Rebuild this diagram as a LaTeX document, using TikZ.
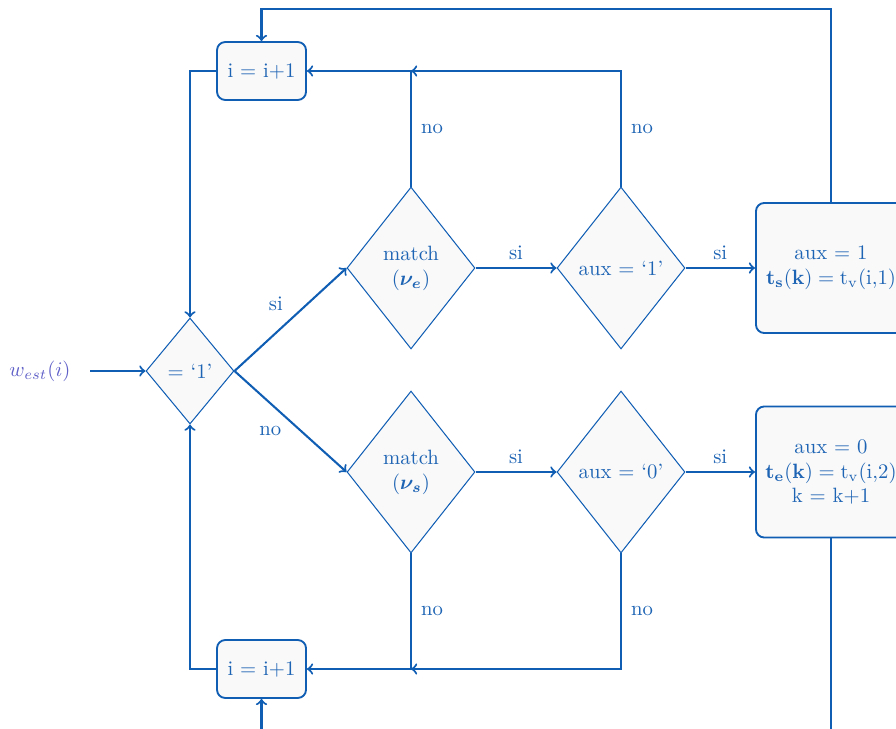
\documentclass[tikz,border=0pt]{standalone}
\usepackage{bm}
\usetikzlibrary{shapes.geometric,calc}
\definecolor{lc}{RGB}{16,94,180}
\definecolor{tc}{RGB}{30,100,180}
\definecolor{wc}{RGB}{95,95,200}
\definecolor{fc}{RGB}{249,249,249}
\tikzset{
  dec/.style={diamond,draw=lc,line width=0.5pt,fill=fc,text=tc,inner sep=0pt,align=center},
  procbox/.style={rectangle,rounded corners=4pt,draw=lc,line width=0.9pt,fill=fc,text=tc,inner sep=0pt,align=center},
  conn/.style={draw=lc,line width=1pt,->},
  lab/.style={text=tc,font=\normalsize},
}
\begin{document}
\begin{tikzpicture}[x=0.483pt,y=-0.483pt]
\clip (0,0) rectangle (896,729);
\useasboundingbox (0,0) rectangle (896,729);
\node[text=wc] (w) at (40,371) {$w_{est}(i)$};
\coordinate (win) at (90,371);
\node[dec,minimum width=42.5pt,minimum height=51.2pt] (d1) at (190,371) {$=$ `1'};
\node[dec,minimum width=61.8pt,minimum height=78.2pt] (me) at (411,268) {match\\$(\bm{\nu_e})$};
\node[dec,minimum width=61.8pt,minimum height=78.2pt] (a1) at (621,268) {aux $=$ `1'};
\node[dec,minimum width=61.8pt,minimum height=78.2pt] (ms) at (411,472) {match\\$(\bm{\nu_s})$};
\node[dec,minimum width=61.8pt,minimum height=78.2pt] (a0) at (621,472) {aux $=$ `0'};
\node[procbox,minimum width=72.5pt,minimum height=62.8pt] (ts) at (831,268) {aux $=$ 1\\$\mathbf{t_s(k)}=\mathrm{t_v(i{,}1)}$};
\node[procbox,minimum width=72.5pt,minimum height=63.3pt] (te) at (831,472) {aux $=$ 0\\$\mathbf{t_e(k)}=\mathrm{t_v(i{,}2)}$\\k $=$ k$+$1};
\node[procbox,minimum width=43pt,minimum height=28pt] (it) at (261.5,71) {i $=$ i$+$1};
\node[procbox,minimum width=43pt,minimum height=28pt] (ib) at (261.5,669) {i $=$ i$+$1};
\coordinate (jt) at (411,71);
\coordinate (jb) at (411,669);
\coordinate (bot) at (831,760);
\coordinate (botl) at (261.5,760);
% connectors
\draw[conn] (win) -- (d1.west);
\draw[conn] (d1.east) -- node[lab,above=7pt,pos=0.37] {si} (me.west);
\draw[conn] (d1.east) -- node[lab,below=7pt,pos=0.32] {no} (ms.west);
\draw[conn] (me.east) -- node[lab,above] {si} (a1.west);
\draw[conn] (a1.east) -- node[lab,above] {si} (ts.west);
\draw[conn] (ms.east) -- node[lab,above] {si} (a0.west);
\draw[conn] (a0.east) -- node[lab,above] {si} (te.west);
\draw[conn] (me.north) -- node[lab,right=1pt] {no} (jt) -- (it.east);
\draw[conn] (a1.north) -- node[lab,right=1pt] {no} (a1.north |- jt) -- (jt);
\draw[conn] (ms.south) -- node[lab,right=1pt] {no} (jb) -- (ib.east);
\draw[conn] (a0.south) -- node[lab,right=1pt] {no} (a0.south |- jb) -- (jb);
\draw[conn] (ts.north) -- ++(0,-193) -| (it.north);
\draw[conn] (it.west) -| (d1.north);
\draw[conn] (ib.west) -| (d1.south);
\draw[conn] (te.south) -- (bot) -- (botl) -- (ib.south);
\end{tikzpicture}
\end{document}
